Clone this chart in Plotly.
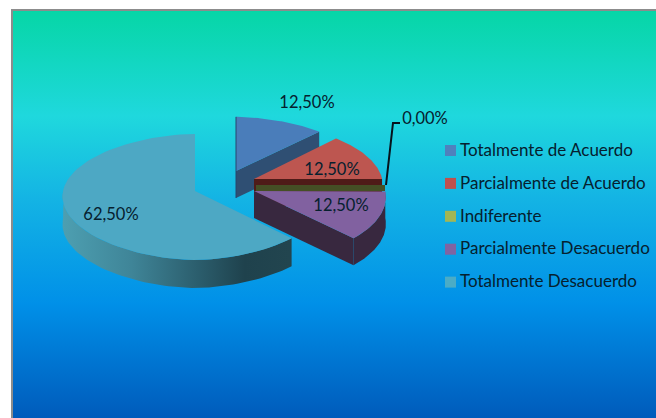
import numpy as np
import plotly.graph_objects as go

categories = ["Totalmente de Acuerdo", "Parcialmente de Acuerdo", "Indiferente",
              "Parcialmente Desacuerdo", "Totalmente Desacuerdo"]
values = [12.5, 12.5, 0.0, 12.5, 62.5]

# styling
top_colors = ["#4a7dba", "#bd5650", "#a0b455", "#8161a0", "#4da8c4"]
wall_colors = ["#2f4f73", "#4f1b18", "#454f25", "#38283f", "#22454f"]
legend_colors = ["#4f81bd", "#c0504d", "#a2b655", "#8064a2", "#4bacc6"]
TEXT = "#06202e"
FONT = "Lato, sans-serif"

# pie geometry, in page pixels
RX, RY, K, DEPTH = 130, 62.4, 0.095, 27
apex_x = [236, 254, 256, 254, 195]
apex_y = [171, 179, 185, 191, 191]
x_scale = [1.0, 0.985, 1.0, 1.01, 1.015]
y_scale = [0.95, 0.98, 1.0, 1.0, 1.0]
x_power = [1.1, 1.1, 1.0, 1.0, 1.1]
label_xy = [(307, 103.5), (332, 170.5), (425, 119.5), (341, 206.5), (111, 215.5)]


def rim(i, t0, t1, n=80):
    t = np.radians(np.linspace(t0, t1, n))
    v = np.cos(t)
    d = 1 + K * v
    s = np.sin(t)
    return (apex_x[i] + RX * x_scale[i] * np.sign(s) * np.abs(s) ** x_power[i] / d,
            apex_y[i] - RY * y_scale[i] * v / d)


cum = np.concatenate([[0], np.cumsum(values)]) * 3.6
fig = go.Figure()


def poly(x, y, color, **kw):
    fig.add_trace(go.Scatter(x=list(x), y=list(y), mode="lines", fill="toself",
                             fillcolor=color, line=dict(width=0, color=color),
                             hoverinfo="skip", showlegend=False, **kw))


# panel
W, H = 656, 418
panel_x = [12, W, W, 12, 12]
panel_y = [10, 10, H, H, 10]
fig.add_trace(go.Scatter(
    x=panel_x, y=panel_y, mode="lines", fill="toself",
    line=dict(width=0), hoverinfo="skip", showlegend=False,
    fillgradient=dict(type="vertical", start=10, stop=H, colorscale=[
        [0, "#06d6a6"], [0.26, "#1fd8dd"], [0.46, "#14b4e4"],
        [0.72, "#0090e8"], [1, "#005bbb"]])))
fig.add_trace(go.Scatter(x=[12, 12, W], y=[H, 10, 10], mode="lines",
                         line=dict(color="#8c8c8c", width=2),
                         hoverinfo="skip", showlegend=False))

# blue slice
i = 0
rx, ry = rim(i, cum[i], cum[i + 1])
poly([apex_x[i], rx[-1], rx[-1], apex_x[i]],
     [apex_y[i], ry[-1], ry[-1] + DEPTH, apex_y[i] + DEPTH], wall_colors[i])
poly([apex_x[i], *rx], [apex_y[i], *ry], top_colors[i])
fig.add_trace(go.Scatter(x=[apex_x[i], rx[0]], y=[apex_y[i] + DEPTH, ry[0]], mode="lines",
                         line=dict(color="#24476e", width=1), hoverinfo="skip", showlegend=False))

# red slice
i = 1
rx, ry = rim(i, cum[i], cum[i + 1])
poly([apex_x[i], rx[-1], rx[-1], apex_x[i]],
     [apex_y[i], ry[-1], ry[-1] + DEPTH, apex_y[i] + DEPTH], wall_colors[i])
poly([apex_x[i], *rx], [apex_y[i], *ry], top_colors[i])

# zero slice: only its radial wall shows
i = 2
rx, ry = rim(i, cum[i], cum[i] + 1e-3, 2)
poly([apex_x[i], rx[0] - 1, rx[0] - 1, apex_x[i]],
     [apex_y[i], ry[0], ry[0] + 6, apex_y[i] + 6], wall_colors[i])

# purple slice
i = 3
rx, ry = rim(i, cum[i], cum[i + 1])
poly([apex_x[i], rx[-1], rx[-1], apex_x[i]],
     [apex_y[i], ry[-1], ry[-1] + DEPTH, apex_y[i] + DEPTH], wall_colors[i])
poly([*rx, *rx[::-1]], [*ry, *(ry[::-1] + DEPTH)], wall_colors[i])
poly([apex_x[i], *rx], [apex_y[i], *ry], top_colors[i])

# teal slice
i = 4
wx, wy = rim(i, cum[i], 272)
fig.add_trace(go.Scatter(
    x=[*wx, *wx[::-1], wx[0]], y=[*wy, *(wy[::-1] + DEPTH + 1), wy[0]],
    mode="lines", fill="toself", line=dict(width=0), hoverinfo="skip", showlegend=False,
    fillgradient=dict(type="horizontal", start=63, stop=290, colorscale=[
        [0, "#4d9fb1"], [0.3, "#3f8598"], [0.6, "#2b5d6c"], [0.8, "#1f424d"], [1, "#22454f"]])))
rx, ry = rim(i, cum[i], cum[i + 1])
poly([apex_x[i], *rx], [apex_y[i], *ry], top_colors[i])

# leader for the zero label
fig.add_trace(go.Scatter(x=[386, 393, 400], y=[185, 123, 123], mode="lines",
                         line=dict(color="#06121c", width=2),
                         hoverinfo="skip", showlegend=False))

# data labels
fig.add_trace(go.Scatter(
    x=[p[0] for p in label_xy], y=[p[1] for p in label_xy], mode="text",
    text=[f"{v:.2f}%".replace(".", ",") for v in values],
    textposition="middle center", textfont=dict(family=FONT, size=16.5, color=TEXT),
    hoverinfo="skip", showlegend=False))

# legend
leg_y = [150 + 32.9 * n for n in range(len(categories))]
fig.add_trace(go.Scatter(
    x=[450.5] * len(categories), y=[y + 0.5 for y in leg_y], mode="markers",
    marker=dict(symbol="square", size=11, color=legend_colors, line=dict(width=0)),
    hoverinfo="skip", showlegend=False))
fig.add_trace(go.Scatter(
    x=[460] * len(categories), y=[y + 1.5 for y in leg_y], mode="text", text=categories,
    textposition="middle right", textfont=dict(family=FONT, size=17, color=TEXT),
    hoverinfo="skip", showlegend=False))

fig.update_layout(
    width=W, height=H, margin=dict(l=0, r=0, t=0, b=0),
    paper_bgcolor="white", plot_bgcolor="white",
    xaxis=dict(visible=False, range=[0, W], fixedrange=True),
    yaxis=dict(visible=False, range=[H, 0], fixedrange=True),
)
fig.write_html("out.html", config={"displayModeBar": False},
               post_script="document.body.style.margin='0';document.body.style.overflow='hidden';")
